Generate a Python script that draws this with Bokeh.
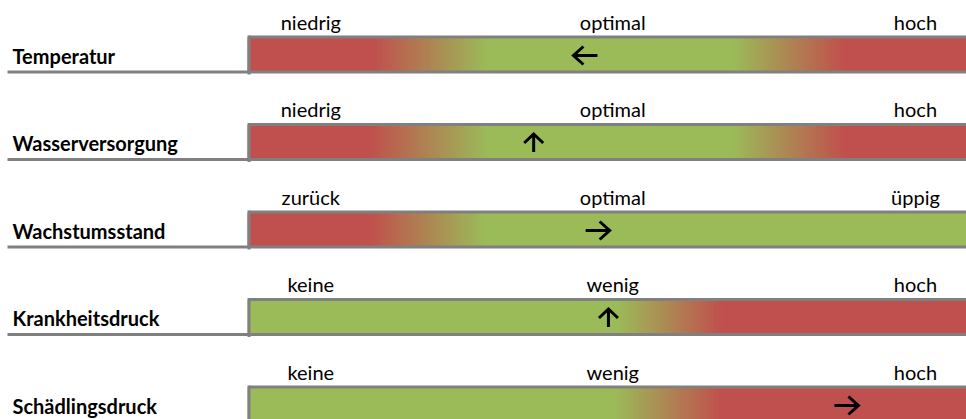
import numpy as np
from bokeh.plotting import figure
from bokeh.models import Range1d
from bokeh.core.properties import value
from bokeh.embed import file_html
from bokeh.resources import INLINE

# ---------------- data ----------------
categories = ["Temperatur", "Wasserversorgung", "Wachstumsstand",
              "Krankheitsdruck", "Schädlingsdruck"]
scale_low = ["niedrig", "niedrig", "zurück", "keine", "keine"]
scale_mid = ["optimal", "optimal", "optimal", "wenig", "wenig"]
scale_high = ["hoch", "hoch", "üppig", "hoch", "hoch"]
# current state (0..100 along the bar) and trend direction
arrow_level = [47.0, 39.8, 48.7, 50.2, 83.3]
arrow_dir = ["left", "up", "right", "up", "right"]
# colour zones along each bar (level, zone)
zone_levels = [
    [0, 17.5, 33.5, 67.5, 83, 100],
    [0, 17, 33.5, 67.5, 83, 100],
    [0, 17, 33, 100],
    [0, 51.5, 66, 100],
    [0, 51, 66, 100],
]
zone_kind = [
    ["bad", "bad", "good", "good", "bad", "bad"],
    ["bad", "bad", "good", "good", "bad", "bad"],
    ["bad", "bad", "good", "good"],
    ["good", "good", "bad", "bad"],
    ["good", "good", "bad", "bad"],
]

# ---------------- style / layout ----------------
RED = (192, 80, 77)
GREEN = (155, 187, 89)
KIND_RGB = {"bad": RED, "good": GREEN}
BORDER = "#808080"
LABEL_LEVELS = [8.8, 50.8, 92.9]

W, H = 966, 419
BAR_LEFT_PX, ROW0_PX, ROW_STEP_PX = 247, 54, 87.5
PX_X = (W - BAR_LEFT_PX) / 100.0
PX_Y = ROW_STEP_PX
X0, X1 = -BAR_LEFT_PX / PX_X, 100.0
Y_TOP = -ROW0_PX / PX_Y
Y_BOT = (H - ROW0_PX) / PX_Y

def dx(px):
    return px / PX_X

def dy(px):
    return px / PX_Y

p = figure(width=W, height=H, x_range=Range1d(X0, X1),
           y_range=Range1d(Y_BOT, Y_TOP),
           x_axis_type=None, y_axis_type=None,
           toolbar_location=None, output_backend="svg",
           min_border=0, outline_line_color=None,
           background_fill_color="white", border_fill_color="white")
p.grid.visible = False

def hex_rgb(c):
    return "#%02x%02x%02x" % tuple(int(round(v)) for v in c)

# gradient fill of each bar
L, R, T, B, C = [], [], [], [], []
for i, (lv, kd) in enumerate(zip(zone_levels, zone_kind)):
    top = i - dy(17)
    bot = i + dy(17)
    for a, b, ka, kb in zip(lv[:-1], lv[1:], kd[:-1], kd[1:]):
        ca, cb = np.array(KIND_RGB[ka], float), np.array(KIND_RGB[kb], float)
        if ka == kb:
            L.append(a); R.append(b + 0.3); T.append(top); B.append(bot); C.append(hex_rgb(ca))
        else:
            n = 80
            edges = np.linspace(a, b, n + 1)
            for k in range(n):
                t = (k + 0.5) / n
                col = ca + (cb - ca) * t
                L.append(edges[k]); R.append(edges[k + 1] + (b - a) / n * 0.6)
                T.append(top); B.append(bot); C.append(hex_rgb(col))
p.quad(left=L, right=R, top=T, bottom=B, fill_color=C, line_color=None)

# bar borders and label underline
xs, ys = [], []
for i in range(len(categories)):
    top = i - dy(17.5)
    bot = i + dy(17.5)
    xs.append([dx(1.5), X1]); ys.append([top, top])
    xs.append([X0 + dx(7), X1]); ys.append([bot, bot])
    xs.append([dx(1.5), dx(1.5)]); ys.append([top - dy(1.5), bot + dy(2.5)])
p.multi_line(xs=xs, ys=ys, line_color=BORDER, line_width=3)

# category labels
p.text(x=[X0 + dx(12)] * len(categories),
       y=[i + dy(1) for i in range(len(categories))],
       text=categories, text_font=value("Lato"), text_font_style="bold",
       text_font_size="20px", text_color="black",
       text_align="left", text_baseline="alphabetic")

# scale labels
for lvl, labels in zip(LABEL_LEVELS, [scale_low, scale_mid, scale_high]):
    p.text(x=[lvl] * len(labels),
           y=[i - dy(33) for i in range(len(labels))],
           text=labels, text_font=value("Lato"),
           text_font_size="20px", text_color="black",
           text_align="center", text_baseline="alphabetic")

# trend arrows
axs, ays = [], []
for i, (lvl, d) in enumerate(zip(arrow_level, arrow_dir)):
    cy = i + dy(1)
    if d in ("left", "right"):
        s = -1 if d == "left" else 1
        tip = lvl + s * dx(12)
        axs.append([lvl - s * dx(12), tip]); ays.append([cy, cy])
        axs.append([tip - s * dx(10), tip, tip - s * dx(10)])
        ays.append([cy - dy(9), cy, cy + dy(9)])
    else:
        tip = cy - dy(9)
        axs.append([lvl, lvl]); ays.append([cy + dy(9), tip])
        axs.append([lvl - dx(9.5), lvl, lvl + dx(9.5)])
        ays.append([tip + dy(9), tip, tip + dy(9)])
p.multi_line(xs=axs, ys=ays, line_color="black", line_width=3,
             line_join="miter", line_cap="butt")

open("out.html", "w").write(file_html(p, INLINE))
